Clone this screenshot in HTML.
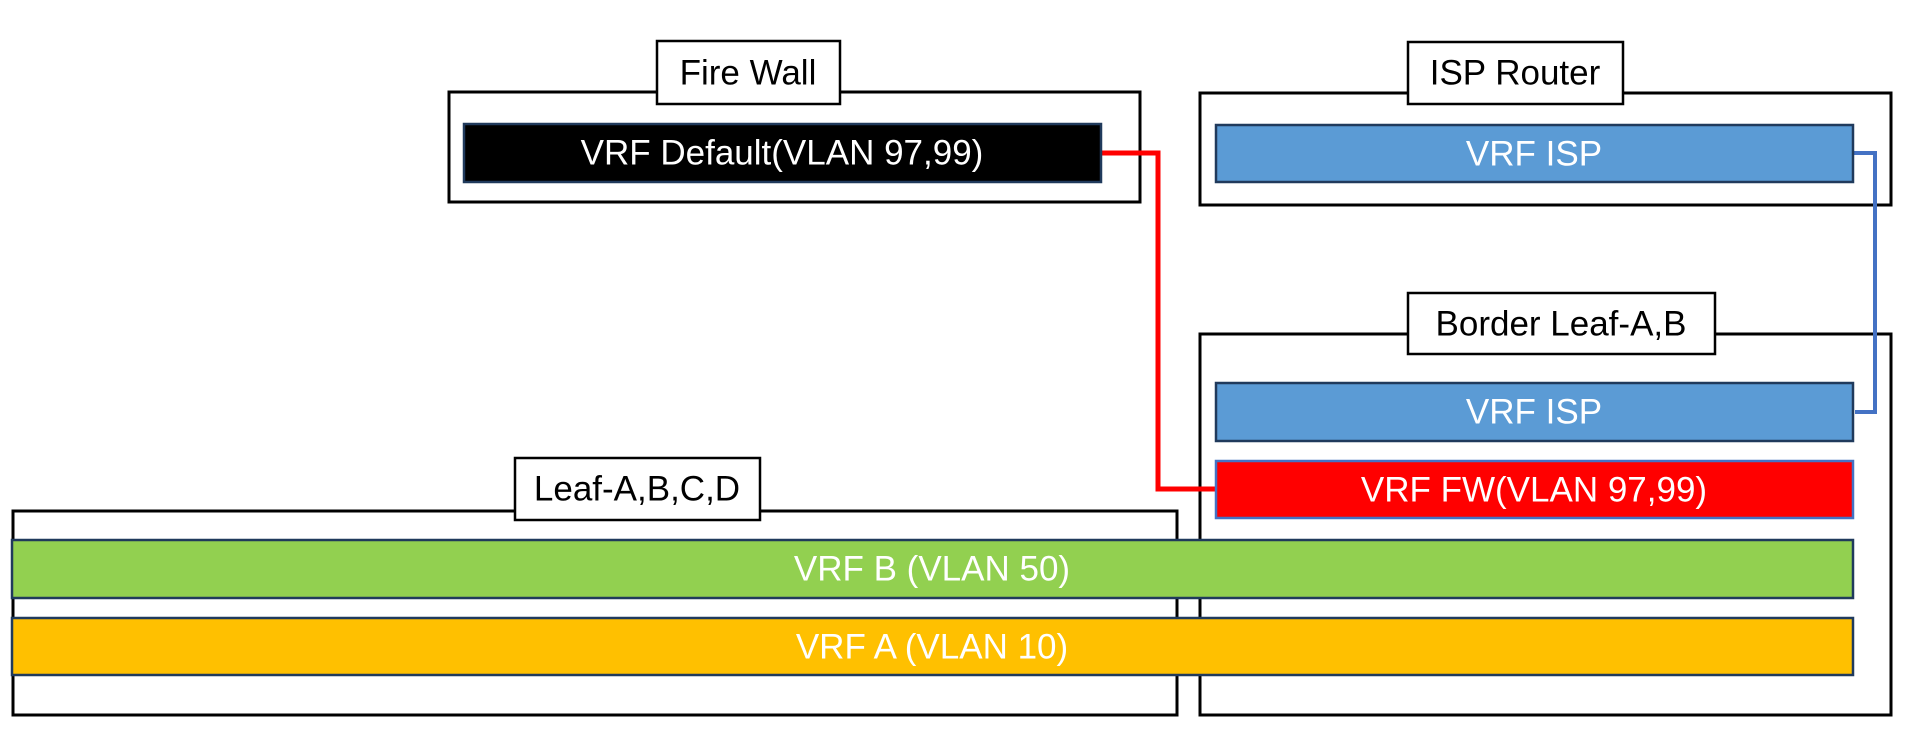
<!DOCTYPE html>
<html><head><meta charset="utf-8"><style>
html,body{margin:0;padding:0;background:#fff;width:1911px;height:745px;overflow:hidden}
text{font-family:"Liberation Sans","Noto Sans CJK KR",sans-serif;font-size:35px;text-anchor:middle;dominant-baseline:central}
</style></head><body>
<svg width="1911" height="745" viewBox="0 0 1911 745" xmlns="http://www.w3.org/2000/svg">
<g fill="#fff" stroke="#000" stroke-width="3">
<rect x="449" y="92" width="691" height="110"/>
<rect x="1200" y="93" width="691" height="112"/>
<rect x="1200" y="334" width="691" height="381"/>
<rect x="13" y="511" width="1164" height="204"/>
</g>
<g fill="#fff" stroke="#000" stroke-width="2.5">
<rect x="657" y="41" width="183" height="63"/>
<rect x="1408" y="42" width="215" height="62"/>
<rect x="1408" y="293" width="307" height="61"/>
<rect x="515" y="458" width="245" height="62"/>
</g>
<polyline points="1101,153 1158,153 1158,489 1216,489" fill="none" stroke="#ff0000" stroke-width="5"/>
<polyline points="1853,153 1875,153 1875,412 1855,412" fill="none" stroke="#4472c4" stroke-width="4"/>
<g stroke="#203a5c" stroke-width="2.5">
<rect x="464" y="124" width="637" height="58" fill="#000"/>
<rect x="1216" y="125" width="637" height="57" fill="#5b9bd5"/>
<rect x="1216" y="383" width="637" height="58" fill="#5b9bd5"/>
<rect x="12" y="540" width="1841" height="58" fill="#92d050"/>
<rect x="12" y="618" width="1841" height="57" fill="#ffc000"/>
</g>
<rect x="1216" y="461" width="637" height="57" fill="#ff0000" stroke="#4472c4" stroke-width="2.5"/>
<g fill="#000">
<text x="748" y="73">Fire Wall</text>
<text x="1515" y="73">ISP Router</text>
<text x="1561" y="324">Border Leaf-A,B</text>
<text x="637" y="489">Leaf-A,B,C,D</text>
</g>
<g fill="#fff">
<text x="782" y="153">VRF Default(VLAN 97,99)</text>
<text x="1534" y="154">VRF ISP</text>
<text x="1534" y="412">VRF ISP</text>
<text x="1534" y="490">VRF FW(VLAN 97,99)</text>
<text x="932" y="569">VRF B (VLAN 50)</text>
<text x="932" y="647">VRF A (VLAN 10)</text>
</g>
</svg>
</body></html>
